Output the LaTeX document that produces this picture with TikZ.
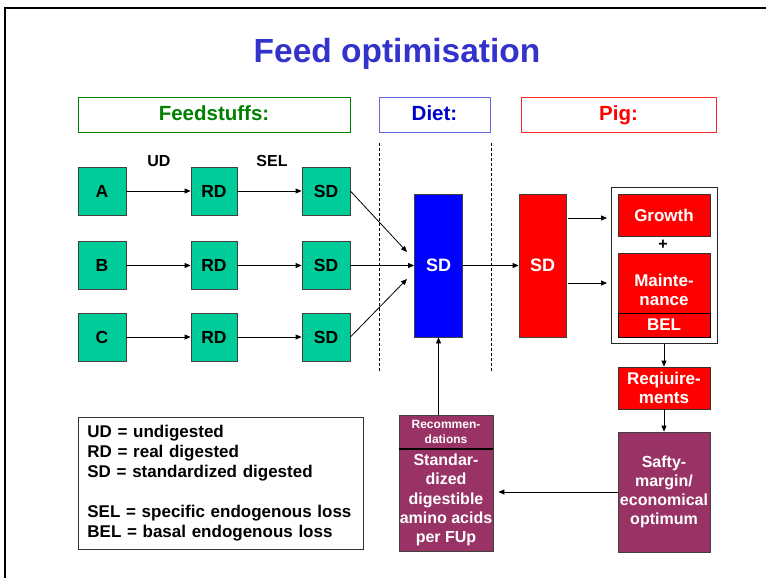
\documentclass[tikz,border=0pt]{standalone}
\usepackage{fontspec}
\setmainfont{Liberation Sans}
\usetikzlibrary{arrows.meta}

\definecolor{titleblue}{HTML}{3333CC}
\definecolor{feedgreen}{HTML}{008000}
\definecolor{dietblue}{HTML}{0000CC}
\definecolor{dietframe}{HTML}{6666E0}
\definecolor{pigred}{HTML}{FF0000}
\definecolor{boxgreen}{HTML}{00CC99}
\definecolor{boxblue}{HTML}{0000FF}
\definecolor{boxred}{HTML}{FF0000}
\definecolor{boxplum}{HTML}{993366}

\newcommand\myfs[2]{\fontsize{#1}{#2}\selectfont\bfseries}

\tikzset{
  header/.style={draw, line width=0.9pt, minimum height=35pt, inner sep=0pt, text height=15pt, text depth=4pt, font=\myfs{20.5}{24}},
  feedbox/.style={draw=black!75, line width=0.8pt, fill=boxgreen, minimum width=48pt, minimum height=48pt, inner sep=0pt, font=\myfs{17.5}{20}},
  redbox/.style={draw=black!80, line width=0.8pt, fill=boxred, text=white, minimum width=92pt, inner sep=0pt, align=center, font=\myfs{17}{19}},
  plumbox/.style={draw=black!75, line width=0.8pt, fill=boxplum, text=white, inner sep=0pt, align=center, font=\myfs{16}{19.2}},
  steplabel/.style={font=\myfs{16}{19}},
  arr/.style={line width=0.8pt, -{Triangle[length=6pt,width=5pt]}},
  divider/.style={line width=0.8pt, dash pattern=on 3pt off 2pt}
}

\begin{document}
\begin{tikzpicture}[x=1pt, y=-1pt]
\useasboundingbox (0,0) rectangle (766,578);

% slide frame
\draw[line width=2pt] (766,8) -- (5,8) -- (5,578);

% title
\node[anchor=base, text=titleblue, font=\myfs{33.5}{40}] (title) at (397,63) {Feed optimisation};

% column headers
\node[header, draw=feedgreen, text=feedgreen, minimum width=272pt] (hfeed) at (214,114.5) {Feedstuffs:};
\node[header, draw=dietframe, text=dietblue, minimum width=111pt] (hdiet) at (434.5,114.5) {Diet:};
\node[header, draw=pigred!85, text=pigred, minimum width=195pt] (hpig) at (618.5,114.5) {Pig:};

% column dividers
\draw[divider] (379,143) -- (379,372);
\draw[divider] (491,143) -- (491,372);

% feedstuff rows
\node[feedbox] (fa) at (102,191) {A};
\node[feedbox] (fb) at (102,265.5) {B};
\node[feedbox] (fc) at (102,337) {C};
\node[feedbox, minimum width=46pt] (rda) at (214,191) {RD};
\node[feedbox, minimum width=46pt] (rdb) at (214,265.5) {RD};
\node[feedbox, minimum width=46pt] (rdc) at (214,337) {RD};
\node[feedbox] (sda) at (326,191) {SD};
\node[feedbox] (sdb) at (326,265.5) {SD};
\node[feedbox] (sdc) at (326,337) {SD};

\node[steplabel, anchor=base] (lud) at (159,166.5) {UD};
\node[steplabel, anchor=base] (lsel) at (272,166) {SEL};

\draw[arr] (fa) -- (rda);
\draw[arr] (fb) -- (rdb);
\draw[arr] (fc) -- (rdc);
\draw[arr] (rda) -- (sda);
\draw[arr] (rdb) -- (sdb);
\draw[arr] (rdc) -- (sdc);

% diet
\node[draw=black!75, line width=0.8pt, fill=boxblue, text=white, minimum width=48pt, minimum height=143pt, inner sep=0pt, font=\myfs{18}{20}] (dsd) at (438.5,265.5) {SD};
\coordinate (dinA) at (407,252);
\coordinate (dinC) at (407,279);
\draw[arr] (sda.east) -- (dinA);
\draw[arr] (sdb.east) -- (dsd.west);
\draw[arr] (sdc.east) -- (dinC);

% pig
\node[draw=black!75, line width=0.8pt, fill=boxred, text=white, minimum width=47pt, minimum height=143pt, inner sep=0pt, font=\myfs{18}{20}] (psd) at (542.5,265.5) {SD};
\draw[arr] (dsd.east) -- (psd.west);

\node[draw=black!85, line width=1pt, fill=white, minimum width=106pt, minimum height=156pt, inner sep=0pt] (need) at (664,265) {};
\node[redbox, minimum height=42pt] (growth) at (664,215) {Growth};
\node[font=\myfs{16}{19}, inner sep=0pt] (plus) at (663,245) {+};
\node[redbox, minimum height=84pt] (maint) at (664,295) {};
\node[text=white, align=center, inner sep=0pt, font=\myfs{17}{19}] (mainttext) at (664,290) {Mainte-\\nance};
\node[redbox, draw=black, line width=1pt, minimum height=24pt] (bel) at (664,325) {BEL};

\coordinate (gin) at (607,218);
\coordinate (min) at (607,283);
\draw[arr] ([xshift=2pt]psd.east |- gin) -- (gin);
\draw[arr] ([xshift=2pt]psd.east |- min) -- (min);

\node[redbox, minimum height=42pt] (req) at (664,388) {Reqiuire-\\ments};
\draw[arr] (need.south) -- (req.north);

\node[plumbox, minimum width=92pt, minimum height=120pt] (safety) at (664,492) {Safty-\\margin/\\economical\\optimum};
\draw[arr] (req.south) -- (safety.north);

% recommendations
\node[plumbox, minimum width=94pt, minimum height=34pt, font=\myfs{12}{15}] (recom) at (446,432) {Recommen-\\dations};
\node[plumbox, minimum width=94pt, minimum height=102pt] (std) at (446,500) {Standar-\\dized\\digestible\\amino acids\\per FUp};
\draw[line width=2pt] (recom.south west) -- (recom.south east);

\draw[arr, shorten >=5pt] (safety.west) -- (safety.west -| std.east);
\draw[arr] (recom.north -| dsd.south) -- (dsd.south);

% abbreviations
\node[draw=black!80, line width=0.8pt, anchor=north west, minimum width=285pt, minimum height=132pt,
      text width=267pt, inner xsep=9pt, align=left, font=\myfs{17}{20}] (legend) at (78,417)
  {UD = undigested\\RD = real digested\\SD = standardized digested\\[20pt]SEL = specific endogenous loss\\BEL = basal endogenous loss};

\end{tikzpicture}
\end{document}
